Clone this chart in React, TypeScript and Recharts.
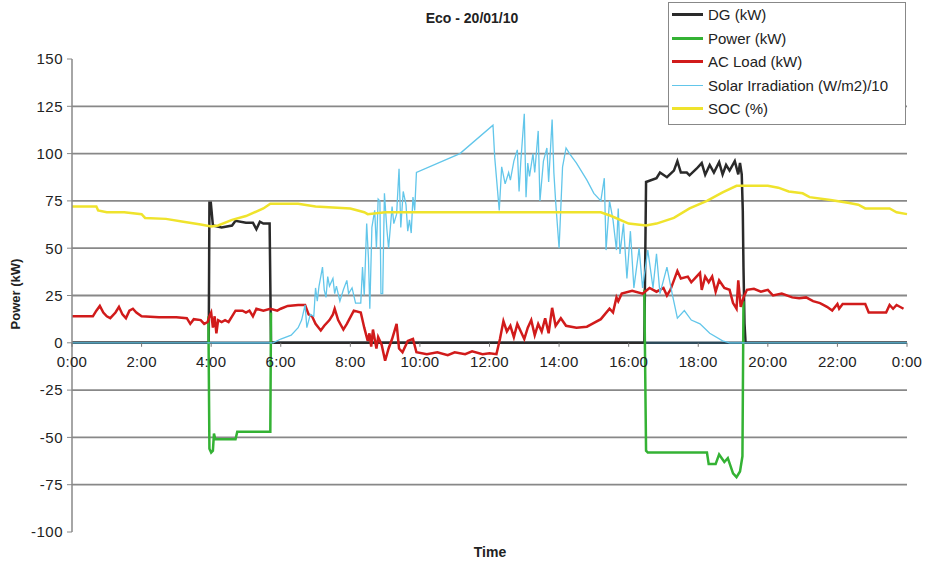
import React from 'react';
import { LineChart, Line, XAxis, YAxis, ReferenceLine } from 'recharts';

// hours since midnight
const dgTime = [0, 3.93, 3.95, 3.99, 4.05, 4.3, 4.6, 4.7, 5.0, 5.2, 5.3, 5.4, 5.5, 5.68, 5.72, 16.45, 16.5, 16.8, 16.9, 17.1, 17.3, 17.4, 17.5, 17.67, 17.75, 17.95, 18.1, 18.2, 18.33, 18.45, 18.6, 18.7, 18.8, 18.9, 19.05, 19.15, 19.2, 19.25, 19.28, 19.3, 19.33, 19.36, 24];
const dgKw = [0, 0, 74, 74, 62, 61, 62, 64.5, 63.5, 63.5, 60, 64, 63, 63, 0, 0, 85, 87, 90, 87.5, 91, 96, 90, 90, 88.5, 92, 95, 88.8, 94, 90, 95.5, 89, 94, 91, 96, 89, 95, 89, 70, 40, 10, 0, 0];

const powerTime = [3.92, 3.95, 4.0, 4.05, 4.08, 4.12, 4.7, 4.75, 5.7, 5.72, 11, 16.45, 16.5, 16.55, 18.25, 18.3, 18.5, 18.6, 18.75, 18.85, 19.0, 19.1, 19.2, 19.27, 19.3];
const powerKw = [14, -56, -58, -57, -48, -51, -51, -47, -47, 16, null, 28, -57, -58, -58, -64, -64, -59, -63, -61, -69, -71, -68, -60, 22];

const acTime = [0, 0.6, 0.7, 0.8, 0.9, 1.0, 1.1, 1.25, 1.35, 1.45, 1.55, 1.65, 1.75, 1.85, 2.0, 2.5, 3.0, 3.3, 3.4, 3.5, 3.7, 3.8, 3.9, 3.95, 4.0, 4.05, 4.1, 4.15, 4.2, 4.3, 4.4, 4.5, 4.6, 4.7, 4.9, 5.0, 5.1, 5.2, 5.3, 5.5, 5.7, 5.9, 6.0, 6.2, 6.5, 6.7, 6.8, 6.9, 7.0, 7.15, 7.25, 7.4, 7.5, 7.55, 7.65, 7.8, 7.9, 8.1, 8.3, 8.4, 8.5, 8.55, 8.6, 8.65, 8.75, 8.8, 8.9, 9.0, 9.1, 9.2, 9.33, 9.4, 9.5, 9.65, 9.8, 9.9, 10.2, 10.5, 10.8, 11.0, 11.3, 11.5, 11.8, 12.0, 12.2, 12.3, 12.4, 12.5, 12.6, 12.7, 12.8, 12.9, 13.0, 13.1, 13.2, 13.3, 13.4, 13.5, 13.6, 13.7, 13.8, 13.9, 14.05, 14.2, 14.5, 14.8, 14.95, 15.2, 15.45, 15.55, 15.65, 15.7, 15.8, 16.1, 16.4, 16.6, 16.8, 17.0, 17.1, 17.2, 17.4, 17.5, 17.7, 17.8, 17.95, 18.05, 18.1, 18.2, 18.3, 18.4, 18.5, 18.6, 18.75, 18.9, 19.0, 19.1, 19.15, 19.22, 19.3, 19.4, 19.6, 19.8, 20.0, 20.15, 20.4, 20.7, 20.9, 21.1, 21.3, 21.5, 21.7, 21.85, 22.0, 22.05, 22.15, 22.8, 22.9, 23.4, 23.5, 23.6, 23.7, 23.9];
const acKw = [14, 14, 17, 19.5, 16, 14, 13, 16, 19, 15, 13, 17, 18, 16, 14, 13.5, 13.5, 13, 10, 12.5, 12, 10, 11, 14, 16, 8, 14, 5, 12, 11, 12, 11, 14, 17, 17, 16, 17, 14, 18, 17, 18, 17, 18, 19.5, 20, 20, 15, 14, 10, 6.5, 9, 12, 15, 18, 12, 7, 10, 17, 16, 8, 1, 5, -2, 7, -3, 3, -1, -9.5, -3, 2, 10, -3, -5, 1, 2, -5, -6, -5, -6.5, -5, -6, -4.5, -6, -5.5, -6, 2, 11.5, 6, 9, 3, 10, 6, 2, 8, 12, 4, 10, 6, 13, 5, 18.5, 9, 13, 9, 8, 8.5, 10, 12.5, 18, 16, 24, 22, 26, 27.5, 26, 29, 27, 29, 25, 28, 38, 34, 35, 32, 35, 37, 28, 35, 32, 35, 27, 33, 29, 28, 21, 18, 33, 19, 24, 28, 28.5, 27, 28, 25, 26, 24, 23.5, 24, 22, 21, 19, 17, 20.5, 18, 20.5, 20.5, 16, 16, 20, 18, 20, 18];

const solarTime = [0, 5.78, 6.0, 6.3, 6.5, 6.6, 6.7, 6.75, 6.85, 6.95, 7.0, 7.05, 7.1, 7.2, 7.25, 7.3, 7.35, 7.4, 7.5, 7.55, 7.6, 7.7, 7.8, 7.9, 7.95, 8.05, 8.15, 8.3, 8.35, 8.4, 8.47, 8.52, 8.56, 8.62, 8.7, 8.75, 8.8, 8.85, 8.88, 8.93, 8.98, 9.05, 9.1, 9.2, 9.25, 9.33, 9.4, 9.45, 9.52, 9.6, 9.65, 9.7, 9.75, 9.8, 9.85, 9.9, 11.15, 12.1, 12.15, 12.28, 12.35, 12.45, 12.55, 12.6, 12.7, 12.8, 12.85, 12.9, 13.0, 13.05, 13.1, 13.15, 13.25, 13.3, 13.4, 13.45, 13.55, 13.65, 13.7, 13.8, 13.85, 13.9, 14.0, 14.1, 14.2, 14.3, 14.5, 14.8, 15.0, 15.2, 15.3, 15.35, 15.45, 15.55, 15.65, 15.7, 15.75, 15.85, 15.95, 16.05, 16.15, 16.3, 16.4, 16.55, 16.7, 16.8, 16.9, 17.1, 17.25, 17.4, 17.6, 17.8, 18.05, 18.33, 18.7, 18.9, 24];
const solarW = [0, 0, 2, 4, 8, 12, 20, 8, 15, 14, 29, 22, 30, 40, 28, 24, 35, 30, 34, 26, 30, 22, 28, 33, 26, 29, 21, 21, 40, 25, 63, 45, 18, 61, 70, 50, 76, 75, 26, 26, 79, 60, 50, 72, 63, 68, 92, 61, 80, 73, 59, 65, 58, 77, 70, 90, 100, 115, 98, 70, 93, 84, 90, 86, 96, 102, 80, 96, 121, 77, 95, 88, 100, 90, 112, 75, 96, 103, 85, 118, 90, 75, 50, 93, 103, 100, 95, 86, 79, 75, 87, 49, 75, 65, 49, 71, 47, 63, 34, 59, 29, 50, 29, 49, 29, 47, 26, 40, 26, 13, 17, 12, 10, 5, 1, 0, 0];

const socTime = [0, 0.7, 0.75, 1.0, 1.5, 2.0, 2.1, 2.7, 3.2, 3.7, 4.0, 4.2, 4.6, 5.0, 5.5, 5.7, 6.5, 7.0, 7.5, 8.0, 8.4, 8.5, 9.0, 15.2, 15.5, 16.0, 16.5, 16.8, 17.3, 17.75, 18.25, 18.7, 19.1, 20.0, 20.3, 20.6, 21.0, 21.2, 21.8, 22.3, 22.6, 22.8, 23.5, 23.7, 24];
const socPct = [72, 72, 70, 69, 69, 68, 66, 65.5, 64, 62.5, 61.5, 62, 65, 67, 71, 73.5, 73.5, 72, 71.5, 71, 69, 68, 69, 69, 67, 63, 62, 63, 66, 71, 75, 79.5, 83, 83, 82, 80, 79, 77, 75.5, 74, 73, 71, 71, 69, 68];

const yTicks = [-100, -75, -50, -25, 0, 25, 50, 75, 100, 125, 150];
const gridValues = [-75, -50, -25, 25, 50, 75, 100, 125];
const xTicks = [0, 2, 4, 6, 8, 10, 12, 14, 16, 18, 20, 22, 24];

const seriesNames = ['DG (kW)', 'Power (kW)', 'AC Load (kW)', 'Solar Irradiation (W/m2)/10', 'SOC (%)'];
const seriesColors = ['#2a2a2a', '#34b234', '#d11b1b', '#62c6ea', '#efe32c'];

const zip = (t: number[], v: (number | null)[]) => t.map((x, i) => ({ t: x, v: v[i] }));

const W = 931;
const H = 563;
const MARGIN = { top: 59, right: 24, bottom: 11, left: 12 };
const X_AXIS_H = 20;
const Y_AXIS_W = 60;
const Y_MIN = -100;
const Y_MAX = 150;
const PLOT_H = H - MARGIN.top - MARGIN.bottom - X_AXIS_H;
const ZERO_SHIFT = (PLOT_H * (0 - Y_MIN)) / (Y_MAX - Y_MIN);
const FONT = '"Liberation Sans", Arial, sans-serif';

// x labels sit under the zero line, not at the bottom of the plot
const XTick = (props: any) => {
  const { x, y, payload } = props;
  const zy = y - ZERO_SHIFT;
  return (
    <g>
      <line x1={x} x2={x} y1={zy} y2={zy + 4} stroke="#777" strokeWidth={1} />
      <text x={x} y={zy + 24} textAnchor="middle" fontSize={15} fontFamily={FONT} fill="#222" letterSpacing={0.3}>
        {`${payload.value % 24}:00`}
      </text>
    </g>
  );
};

const LegendBox = () => (
  <div
    style={{
      position: 'absolute',
      left: 668,
      top: 2,
      width: 238,
      height: 123,
      border: '1px solid #888',
      background: '#fff',
      boxSizing: 'border-box',
      padding: '0 0 0 3px',
      fontFamily: FONT,
      fontSize: 15,
      color: '#222',
    }}
  >
    {seriesNames.map((name, i) => (
      <div key={name} style={{ display: 'flex', alignItems: 'center', height: 23.5, whiteSpace: 'nowrap' }}>
        <span style={{ display: 'inline-block', width: 31, height: i === 3 ? 1.5 : 3, background: seriesColors[i], marginRight: 5, flexShrink: 0 }} />
        <span>{name}</span>
      </div>
    ))}
  </div>
);

const App: React.FC = () => {
  const lines = [
    zip(dgTime, dgKw),
    zip(powerTime, powerKw),
    zip(acTime, acKw),
    zip(solarTime, solarW),
    zip(socTime, socPct),
  ];
  return (
    <div style={{ position: 'absolute', left: 0, top: 0, width: W, height: H, background: '#fff', fontFamily: FONT }}>
      <LineChart width={W} height={H} margin={MARGIN}>
        <XAxis
          type="number"
          dataKey="t"
          domain={[0, 24]}
          ticks={xTicks}
          height={X_AXIS_H}
          axisLine={false}
          tickLine={false}
          tickSize={0}
          tickMargin={0}
          tick={(p: any) => <XTick {...p} />}
          interval={0}
        />
        <YAxis
          type="number"
          domain={[Y_MIN, Y_MAX]}
          ticks={yTicks}
          width={Y_AXIS_W}
          interval={0}
          axisLine={{ stroke: '#888', strokeWidth: 1.5 }}
          tickLine={{ stroke: '#888' }}
          tickSize={5}
          tickMargin={4}
          tick={{ fontSize: 15, fill: '#222', fontFamily: FONT, letterSpacing: 0.5 }}
        />
        {gridValues.map((v) => (
          <ReferenceLine key={v} y={v} stroke="#888" strokeWidth={1.8} />
        ))}
        <ReferenceLine y={0} stroke="#2e4a5a" strokeWidth={2.5} />
        {lines.map((d, i) => (
          <Line
            key={seriesNames[i]}
            data={d}
            dataKey="v"
            name={seriesNames[i]}
            type="linear"
            stroke={seriesColors[i]}
            strokeWidth={i === 3 ? 1.3 : 2.5}
            dot={false}
            activeDot={false}
            connectNulls={false}
            isAnimationActive={false}
          />
        ))}
      </LineChart>
      <div style={{ position: 'absolute', left: 372, width: 200, top: 10, textAlign: 'center', fontWeight: 'bold', fontSize: 14, color: '#222' }}>
        Eco - 20/01/10
      </div>
      <div style={{ position: 'absolute', left: 390, width: 200, top: 544, textAlign: 'center', fontWeight: 'bold', fontSize: 14, color: '#222' }}>
        Time
      </div>
      <div
        style={{
          position: 'absolute',
          left: 15,
          top: 294,
          transform: 'translate(-50%, -50%) rotate(-90deg)',
          fontWeight: 'bold',
          fontSize: 13,
          color: '#222',
          whiteSpace: 'nowrap',
        }}
      >
        Power (kW)
      </div>
      <LegendBox />
    </div>
  );
};

export default App;
